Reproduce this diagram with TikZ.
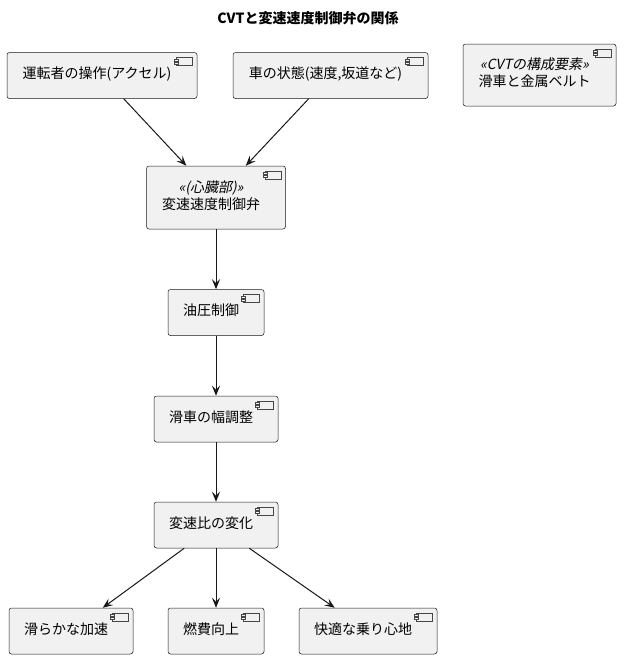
\documentclass[tikz,border=0pt]{standalone}
\usepackage{fontspec}
\setmainfont{Noto Sans CJK JP}
\newfontfamily\stereofont{Noto Sans CJK JP}[FakeSlant=0.2]
\usetikzlibrary{arrows.meta}
\definecolor{boxc}{HTML}{F1F1F1}
\definecolor{linec}{HTML}{181818}
% text left of the component icon
\newcommand\comptext[1]{\raisebox{-1.5pt}{\begin{tabular}{@{}c@{}}#1\end{tabular}}\hspace*{10pt}}
\tikzset{
  comp/.style={draw=linec, fill=boxc, line width=0.5pt, rounded corners=2.5pt,
    minimum height=46pt, inner sep=0pt, font=\fontsize{14}{17}\selectfont},
  flow/.style={draw=linec, line width=1pt, -{Stealth[length=10pt,width=8pt,inset=4pt]}},
  icon/.style={draw=linec!80, fill=boxc, line width=0.4pt}
}
\begin{document}
\begin{tikzpicture}[x=1pt,y=-1pt]
\useasboundingbox (0,0) rectangle (624,659);
\node[font=\fontsize{14}{17}\selectfont\bfseries] (title) at (308,18) {CVTと変速速度制御弁の関係};

% inputs
\node[comp, minimum width=190pt] (drv) at (102,75.5) {\comptext{運転者の操作(アクセル)}};
\node[comp, minimum width=195pt] (car) at (330.5,75.5) {\comptext{車の状態(速度,坂道など)}};
\node[comp, minimum width=153pt, minimum height=62pt] (cvt) at (539.5,75) {\comptext{{\stereofont «CVTの構成要素»}\\滑車と金属ベルト}};

% chain
\node[comp, minimum width=139pt, minimum height=63pt] (valve) at (216,197.5) {\comptext{{\stereofont «(心臓部)»}\\変速速度制御弁}};
\node[comp, minimum width=96pt] (oil) at (216,312.5) {\comptext{油圧制御}};
\node[comp, minimum width=124pt] (pulley) at (216,419) {\comptext{滑車の幅調整}};
\node[comp, minimum width=124pt] (ratio) at (216,525) {\comptext{変速比の変化}};

% results
\node[comp, minimum width=124pt] (accel) at (71,631) {\comptext{滑らかな加速}};
\node[comp, minimum width=96pt] (fuel) at (216,631) {\comptext{燃費向上}};
\node[comp, minimum width=138pt] (ride) at (368,631) {\comptext{快適な乗り心地}};

\foreach \n in {drv,car,cvt,valve,oil,pulley,ratio,accel,fuel,ride} {
  \draw[icon] ([xshift=-21pt,yshift=-5pt]\n.north east) rectangle ++(16,8);
  \draw[icon] ([xshift=-23pt,yshift=-6.5pt]\n.north east) rectangle ++(4,2);
  \draw[icon] ([xshift=-23pt,yshift=-9.5pt]\n.north east) rectangle ++(4,2);
}

\draw[flow] (drv) -- (valve);
\draw[flow] (car) -- (valve);
\draw[flow] (valve) -- (oil);
\draw[flow] (oil) -- (pulley);
\draw[flow] (pulley) -- (ratio);
\draw[flow] (ratio) -- (accel);
\draw[flow] (ratio) -- (fuel);
\draw[flow] (ratio) -- (ride);
\end{tikzpicture}
\end{document}
